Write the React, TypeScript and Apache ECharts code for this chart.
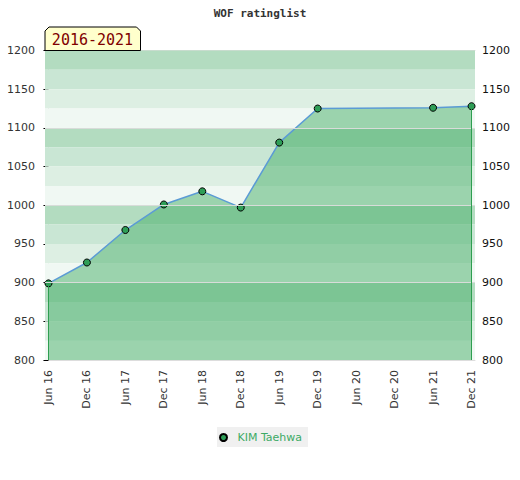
import React, { useEffect, useRef } from "react";
import * as echarts from "echarts";

const xLabels = ["Jun 16", "Dec 16", "Jun 17", "Dec 17", "Jun 18", "Dec 18", "Jun 19", "Dec 19", "Jun 20", "Dec 20", "Jun 21", "Dec 21"];
const pointIdx = [0, 1, 2, 3, 4, 5, 6, 7, 10, 11];
const ratings = [899, 926, 968, 1001, 1018, 997, 1081, 1125, 1126, 1128];
const seriesName = "KIM Taehwa";
const yMin = 800;
const yMax = 1200;
const yStep = 50;
const bandStep = 25;
const bandColors = ["#b3dcc0", "#c9e6d4", "#ddefe3", "#f0f8f3"];
const blockLines = [1100, 1000, 900];
const periodLabel = "2016-2021";

export default function App() {
  const ref = useRef<HTMLDivElement>(null);
  useEffect(() => {
    document.body.style.margin = "0";
    const chart = echarts.init(ref.current!, null, { renderer: "svg" });

    const bands: any[] = [];
    let i = 0;
    for (let v = yMax; v > yMin; v -= bandStep) {
      bands.push([
        { yAxis: v, itemStyle: { color: bandColors[i % 4], opacity: 1 } },
        { yAxis: v - bandStep },
      ]);
      i++;
    }
    const data = pointIdx.map((x, k) => [x, ratings[k]]);
    const lastIdx = pointIdx[pointIdx.length - 1];

    chart.setOption({
      animation: false,
      title: {
        text: "WOF ratinglist",
        left: "center",
        top: 3,
        textStyle: { fontFamily: "DejaVu Sans Mono", fontWeight: "bold", fontSize: 11, color: "#333" },
      },
      legend: {
        top: 427,
        left: 217,
        backgroundColor: "#f0f0f0",
        padding: [5, 6, 4, 2],
        itemWidth: 18,
        itemHeight: 7,
        itemGap: 6,
        textStyle: { color: "#3daa65", fontFamily: "DejaVu Sans", fontSize: 11 },
        data: [{ name: seriesName, icon: "circle" }],
      },
      grid: { left: 45, right: 45, top: 50.5, bottom: 120 },
      xAxis: [
        {
          type: "value",
          min: -0.09,
          max: 11.09,
          axisLine: { show: true, lineStyle: { color: "#dddddd" } },
          axisTick: { show: false },
          splitLine: { show: false },
          axisLabel: {
            customValues: xLabels.map((_, k) => k),
            formatter: (v: number) => xLabels[Math.round(v)] ?? "",
            rotate: 90,
            color: "#333",
            fontFamily: "DejaVu Sans",
            fontSize: 11,
            margin: 10,
          },
        },
        {
          type: "value",
          position: "top",
          min: -0.09,
          max: 11.09,
          axisLine: { show: true, lineStyle: { color: "#dddddd" } },
          axisTick: { show: false },
          axisLabel: { show: false },
          splitLine: { show: false },
        },
      ],
      yAxis: [
        {
          type: "value",
          position: "left",
          min: yMin,
          max: yMax,
          interval: yStep,
          axisLine: { show: true, lineStyle: { color: "#dddddd" } },
          axisTick: { show: false },
          splitLine: { show: false },
          axisLabel: { color: "#333", fontFamily: "DejaVu Sans", fontSize: 11, margin: 10, formatter: (v: number) => String(v) },
        },
        {
          type: "value",
          position: "right",
          min: yMin,
          max: yMax,
          interval: yStep,
          axisLine: { show: true, lineStyle: { color: "#dddddd" } },
          axisTick: { show: true, inside: true, length: 5, lineStyle: { color: "#000" } },
          minorTick: { show: true, splitNumber: 5, length: 3, lineStyle: { color: "#000" } },
          splitLine: { show: false },
          axisLabel: { color: "#111", fontFamily: "DejaVu Sans", fontSize: 11, margin: 7, formatter: (v: number) => String(v) },
        },
      ],
      series: [
        {
          type: "line",
          name: "bands",
          data: [],
          z: 1,
          silent: true,
          markArea: { silent: true, data: bands },
          markLine: {
            silent: true,
            symbol: "none",
            label: { show: false },
            lineStyle: { color: "#d8dcd9", type: "solid", width: 1 },
            data: blockLines.map((v) => ({ yAxis: v })),
          },
        },
        {
          type: "line",
          name: seriesName,
          z: 3,
          data,
          symbol: "circle",
          symbolSize: 7,
          itemStyle: { color: "#2e9e57", borderColor: "#000", borderWidth: 1 },
          lineStyle: { color: "#5b9bd5", width: 1.5 },
          areaStyle: { color: "rgba(69,174,104,0.5)", opacity: 1, origin: "start" },
          markLine: {
            silent: true,
            symbol: "none",
            label: { show: false },
            lineStyle: { color: "#2e9e50", type: "solid", width: 1 },
            data: [
              [{ coord: [pointIdx[0], ratings[0]] }, { coord: [pointIdx[0], yMin] }],
              [{ coord: [lastIdx, ratings[ratings.length - 1]] }, { coord: [lastIdx, yMin] }],
            ],
          },
        },
      ],
      graphic: [
        {
          type: "polygon",
          z: 100,
          shape: { points: [[45, 50.5], [45, 31], [49, 27], [136.5, 27], [140.5, 31], [140.5, 50.5]] },
          style: { fill: "#ffffcc", stroke: "#000", lineWidth: 1 },
        },
        {
          type: "text",
          z: 101,
          x: 92.5,
          y: 40,
          style: {
            text: periodLabel,
            fill: "#800000",
            font: "15px 'DejaVu Sans Mono'",
            align: "center",
            verticalAlign: "middle",
          },
        },
      ],
    });
    return () => chart.dispose();
  }, []);
  return <div ref={ref} style={{ width: 520, height: 480 }} />;
}
